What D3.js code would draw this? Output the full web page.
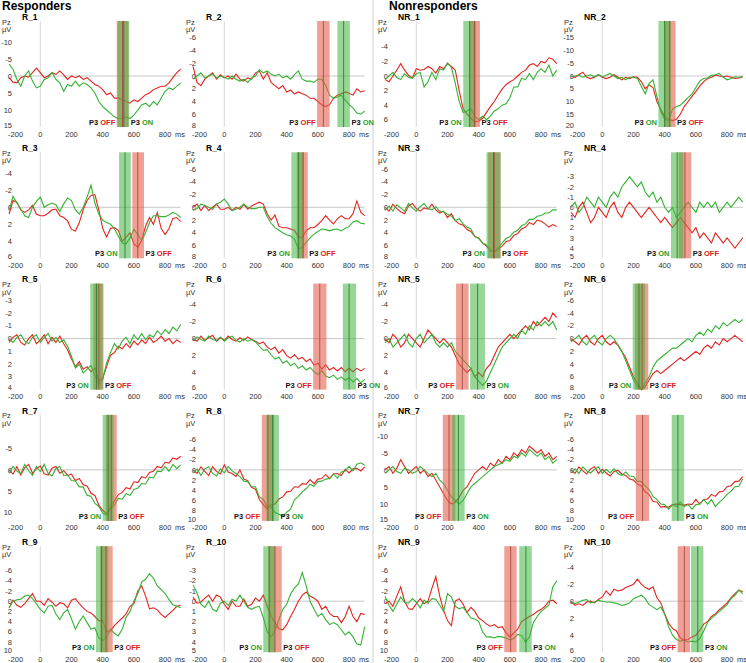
<!DOCTYPE html>
<html>
<head>
<meta charset="utf-8">
<script src="https://cdn.jsdelivr.net/npm/d3@7"></script>
<style>
  body { margin: 0; background: #fff; }
  svg { font-family: "Liberation Sans", Arial, sans-serif; }
</style>
</head>
<body>
<svg id="chart" width="746" height="663"></svg>
<script>
// sample times (ms) shared by every trace
const times = [-200,-175,-150,-125,-100,-75,-50,-25,0,25,50,75,100,125,150,175,200,225,250,275,300,325,350,375,400,425,450,475,500,525,550,575,600,625,650,675,700,725,750,775,800,825,850,875,900];
const xTicks = [-200, 0, 200, 400, 600, 800];

const panelNames = ["R_1","R_2","NR_1","NR_2","R_3","R_4","NR_3","NR_4","R_5","R_6","NR_5","NR_6","R_7","R_8","NR_7","NR_8","R_9","R_10","NR_9","NR_10"];
// value shown at the bottom edge of each panel, and tick spacing (µV)
const yMaxes    = [15, 8, 7, 20, 6, 8, 8, 5, 4, 6, 6, 8, 12, 10, 15, 10, 10, 5, 10, 6];
const tickSteps = [ 5, 2, 2,  5, 2, 2, 2, 1, 1, 2, 2, 2,  5,  2,  5,  2,  2, 1,  2, 2];
// P3 windows: [start, end, peak] in ms
const offBands = [[490,565,527],[595,675,635],[338,408,373],[395,470,432],[590,665,625],[465,535,505],[460,540,500],[490,570,530],[340,405,375],[570,655,612],[255,335,295],[210,295,255],[420,490,455],[240,320,280],[170,250,210],[215,300,258],[383,464,421],[282,368,325],[564,643,605],[483,562,526]];
const onBands  = [[495,570,535],[725,805,765],[301,383,342],[360,440,400],[505,580,543],[430,510,475],[450,540,495],[440,520,480],[320,400,360],[760,845,800],[345,440,393],[195,275,235],[400,470,435],[270,350,310],[230,310,270],[445,525,485],[357,436,393],[250,325,288],[660,740,703],[569,648,612]];

// P3 OFF (red) and P3 ON (green) averages, µV, positive down
const r1Off = [0.5,1.8,2,0.5,0,0.3,-1,-2.3,-1,0.5,0,-1,-0.5,-1.5,-0.3,1,0,0.5,0,1,0.5,1.5,2.5,3,4,5.5,5,6.5,6.5,7,7.5,8,7,7.5,6.5,5.5,5,4,3.5,3,3,2,0.5,-1,-2];
const r1On  = [-3.5,-2,1,3,0,-1.5,1.5,3.5,3,1,0.5,-1,1,2,4.5,2.5,3,1.5,3,2,2.5,3.5,5,7.5,9,10,11,12,12.5,12.5,12,12.5,11.5,10,8.5,8,9,7.5,8.5,6.5,4.5,3.5,4,3,2];
const r2Off = [-1.5,1,1.5,0.5,0,-0.5,0.5,-0.2,0.3,0,0.5,-0.3,0.5,0.8,0.3,0.5,-0.5,-0.8,0.5,-0.5,1,1.5,2,1.5,2.5,2.2,2.8,2.5,2.8,3,3.5,3.5,4,4.5,4.8,4.5,3.5,3,2.8,2.5,2.7,3,2,2.5,2.3];
const r2On  = [0.5,0,-0.5,0.3,0,-0.3,0.3,0,0.2,0.5,0,0.5,0.8,0.5,1,0.3,0,-1,-0.5,-0.8,-0.3,0,-0.3,0.3,0,0.5,-0.2,-0.8,0.5,0.8,0.8,1,0.5,0.5,1.5,3,3.5,3.3,3,3.8,4.5,5,5.8,6,5.5];
const nr1Off = [0.5,0.8,0,-0.8,-1.7,-0.8,-0.1,0.3,-1,-0.8,-0.9,-1.3,-1,-0.4,-1.3,-1,-1.7,-1.3,-0.8,2,4.5,5.2,5.8,6.3,6.2,5.8,5,4.2,3.5,2.6,1.8,1.2,0.8,0.5,0,-0.5,-0.8,-1.5,-1.7,-1.3,-2,-1.8,-2.5,-2.3,-1.7];
const nr1On  = [0.5,0,-0.5,0.2,0.5,-0.3,0.2,0.3,-0.3,-0.5,1.5,0.8,-0.5,0.5,-1,-0.8,-1.8,-1.2,1,3.5,5,4.8,4.5,5.5,6,5.5,6,5.5,4.8,4.5,4,3.8,3,1.5,1.5,0.3,0.5,-0.3,0.5,-0.5,-1,-0.5,-1.5,0,-0.8];
const nr2Off = [0,0.5,-0.5,-1.5,0.5,1,0.5,-0.5,0.5,1,0.5,-0.5,0.5,1.5,0.5,1,0.3,0.5,2.2,5,3.5,4.5,10,13,16,17,17.5,17,15,12,10,8,6,4,2.2,1,0.5,-0.4,0,0.3,0,0.5,1,0.8,0.3];
const nr2On  = [0.3,0,-0.3,0.5,0,-0.5,0.3,-0.5,0.3,-0.3,-1,0,1,0.5,1.5,0.5,0.5,1,4,7,3,1.5,8,14,17,17.5,13,12,11.5,10,8.5,7,4.5,2,1,0.8,-0.3,-0.5,-1,0.5,1.5,1,0.3,0.5,0.3];
const r3Off = [0.8,-0.8,-0.6,0.3,0.6,0.3,-0.2,0.8,1,1,0.7,0.3,0.2,1,1.2,1.6,2.6,2.8,1.8,0.3,-0.8,-1.4,-1.5,0.3,2.5,3.5,2.5,2.4,2.7,4,3.5,3,4.3,4.7,3.9,2.2,1.2,2,0.6,2.5,3.2,2.5,1.3,1.2,1.7];
const r3On  = [0.4,-1.3,-0.5,0.2,1,1.2,0,-0.7,-1.2,0,-0.3,-0.5,-0.3,0.5,-0.4,-1.1,-0.8,0.3,0.8,0,-1.2,-2.6,-0.5,0.8,1.5,1.8,2,2.5,3.4,4.2,4.3,3.6,2.6,3.2,3.9,3,1.8,1,1,1.1,1.1,0.9,0.6,0.8,1.2];
const r4Off = [0,-0.5,0.5,-0.3,0.5,0,-0.5,0.3,0.3,0,0.5,0,0.3,-0.5,0.3,-0.2,-0.5,-0.8,-0.5,1,2,1.2,3,3.2,3.2,3.4,3.6,4.7,4.7,3.7,3.2,3.2,2.7,2.1,1.3,2,2.6,1.8,1.3,1.8,1.8,1,-1,0.8,1.3];
const r4On  = [0.5,0.2,-0.5,-0.3,0,0.3,-0.5,-0.8,-1.3,-0.5,0.5,0.3,0,-0.5,0,0.2,0.2,0,0,1.5,2.5,3.2,3.6,4,4.3,4.5,5,6.5,6.3,5.5,4.8,4.2,3.8,3.4,3.5,3.7,3.5,3.4,3.7,3.3,3,2.3,2.1,2.5,2.6];
const nr3Off = [0,0.6,-0.5,0.2,0.7,1,-0.2,-0.6,0.2,0.6,0.1,0.3,-0.5,0.4,0.9,0.6,1.6,1,2.1,2.6,2.8,3.5,3.8,4.6,4.8,5.6,6.1,6.7,7,6.6,6.1,5.4,5.2,4.4,4.1,3.4,3.1,2.4,2.7,2,2.2,2.6,3.1,2.7,3];
const nr3On  = [0.5,-0.2,0.6,-0.4,0.1,0.6,-0.6,0.1,0.6,-0.1,-0.6,0.2,0.4,-0.1,0.6,0.7,1.1,1.4,2.1,1.8,2.6,3.1,3.4,4.6,4.9,5.6,5.9,6.9,7,6.4,5.6,4.9,4.6,3.9,3.6,2.9,2.6,1.9,1.9,1.4,1.3,0.9,0.9,0.4,0.4];
const nr4Off = [0.5,1,0,-0.5,0.5,1.5,1,0,0.5,1,0,-0.5,0.5,1,0,-0.5,0,0.5,1,0.5,0,0.5,1,1.5,1,1.5,2,1.5,1,1.5,2,2.5,2,3,2.5,3,3.5,2.5,3,3.5,3,3.5,4,3.5,3];
const nr4On  = [0,-0.5,0.5,0,-1,-0.5,0,-1,-0.5,0,-1,-1.5,-1,-2,-2.5,-3,-2.5,-2,-2.5,-1.5,-1,-1.5,-0.5,-1,0,0.5,0,1,0.5,0,-0.5,0,0.5,-0.5,0,-0.5,0,-0.5,0.5,0,-0.5,0,-0.5,-1,-0.5];
const r5Off = [0.3,-0.1,-0.3,0.3,0.5,0,-0.3,0.4,0.1,-0.3,0.4,-0.1,0.3,-0.2,0.4,0.9,1.6,2.2,1.8,2.4,2.2,2.6,2.3,3.3,3.1,2.2,1.3,1.1,0.6,0.8,0.4,0.7,0.2,0.5,0.1,0.4,-0.1,0.3,0.1,-0.2,0.2,0,0.4,0.1,0.3];
const r5On  = [0,0.3,-0.1,-0.3,0.2,0.4,-0.1,-0.3,0.3,-0.1,-0.4,0.2,-0.1,0.3,0.1,0.6,1.4,2.3,2,2.7,2.4,2.1,2.9,3.6,3.2,1.9,1.1,0.4,0.8,0.2,-0.1,0.4,-0.3,0.1,-0.4,0.1,-0.3,-0.1,-0.6,-0.3,-0.7,-0.4,-0.9,-0.6,-1.1];
const r6Off = [0,0.3,-0.3,0.2,-0.1,-0.4,0.3,-0.1,0.2,-0.3,0.1,0.3,-0.1,0.2,-0.2,0.1,0.3,0.6,0.4,1,1.3,1,1.7,1.3,2,2.3,1.9,2.4,2.2,2.7,2.4,3.1,2.9,3.6,3.1,3.7,3.4,3.8,3.4,3.9,3.5,3.9,3.5,3.8,3.5];
const r6On  = [0.2,-0.2,0.1,0.3,-0.3,0.1,0.2,-0.2,0.3,-0.1,-0.3,0.2,0.4,0,0.3,0.1,0.4,0.9,1.4,1.3,1.9,2.4,2.2,2.9,2.6,3.2,2.9,3.5,3.2,3.7,3.4,3.9,4.2,3.8,4.4,4.6,4.3,4.8,4.5,4.9,4.6,5.1,4.7,5.2,4.8];
const nr5Off = [0,0.5,-0.5,0,1,0.5,-0.5,0,0.5,1,0,-1,-0.5,0,0.5,0,0.5,1,2,3,3.5,4,3.5,4.5,4,4.5,3.5,3,2,1,0.5,0,-0.5,0,-0.5,-1,-1.5,-1,-2,-1.5,-2,-2.5,-2,-3,-2.5];
const nr5On  = [0.5,0,1,0.5,0,-0.5,0.5,1,0,-0.5,0.5,0,-0.5,0.5,1,0.5,1,0.5,1.5,2,2.5,3,3.5,4.5,5,5.5,5,4,3,2,1,0.5,0,-0.5,0,-1,-0.5,-1.5,-1,-2,-1.5,-2,-1.5,-2,-1];
const nr6Off = [0,0.5,1,0,-0.5,0.5,1,0,-0.5,0.5,1,0.5,1,2,3,4.5,6,7,8,7.5,6.5,5.5,5,5.5,5,4.5,4,3.5,3,3.5,3,2.5,2,2.5,1.5,1,1.5,0.5,1,0,0.5,0,-0.5,0,0.5];
const nr6On  = [0.5,0,-0.5,0.5,1,0,-0.5,0.5,1,0,-0.5,0,1,2,3.5,5,6.5,7.5,8,7,6,4.5,3.5,3,2.5,2,1.5,1.5,1,0.5,0,0.5,-0.5,-1,-0.5,-1.5,-1,-2,-1.5,-2.5,-2,-2.5,-3,-2.5,-3];
const r7Off = [0,1,-0.8,1.2,-0.5,-1.3,0.8,-0.3,-0.9,0.9,1.2,-0.4,-0.8,0.8,0.2,1.3,1,2.5,2,3.5,3.8,5.5,6,8.3,9.5,10.3,8.8,7.3,5.8,5.3,4.2,4.5,2.8,3,1.6,1.9,0.6,0.3,-0.8,-0.5,-1.8,-1.6,-2.8,-2.5,-3.2];
const r7On  = [0.8,-0.8,0.3,0.9,-1.3,0.2,1.3,-0.8,0.4,-1.3,0.8,1.4,-0.3,-0.8,1.3,1.2,2.5,2.6,4,4,6,6.2,7.9,8.6,10.2,10.6,9.2,8.3,6.7,6.9,5.6,6,4.6,4.3,3.2,3.3,1.7,1.9,0.3,0.4,-0.8,0.3,-1.3,-0.3,-1.2];
const r8Off = [0,0.7,-0.6,0.3,1.1,-0.6,0.3,0.8,-1,0.4,0.7,1.3,0,1.8,2.1,3.4,3.8,5.8,6.8,7.7,6.8,6.7,5.7,5.3,4.3,4.2,3.3,3.4,2.7,2.8,1.9,2.7,1.8,1.7,0.9,1.7,0.8,0.7,1.1,-0.1,0.6,-0.2,-0.3,0.2,-0.6];
const r8On  = [0.6,-0.2,1.1,-0.2,-0.6,0.7,1.2,-0.2,0.6,-0.7,0.2,0.7,1.3,2.2,2.3,3.3,3.3,5.3,5.8,7.3,7.3,8.3,8.7,9.1,8.3,7.7,5.8,5.2,4.3,3.7,2.8,3.2,2.3,2.2,1.8,1.7,0.8,1.6,0.4,0.2,-0.7,0.2,-1.1,-1.4,-0.9];
const nr7Off = [0,-1,1,-0.5,-3,-1,1,0,-1,1,0,2,1,3,5,7,9,10,9.5,8,6,5,3,1,0,-1,0,-2,-1,-3,-2,-4,-3,-5,-4,-6,-5,-7,-6,-5,-6,-4,-5,-3,-4];
const nr7On  = [1,0,-1,0.5,1,-0.5,0,1,0.5,-1,0,1,2,1,3,4,6,8,9,10,9,7,5,4,3,2,1,0,-1,-1.5,-2,-3,-2.5,-4,-3.5,-5,-4,-6,-5,-4,-5,-3,-4,-2,-3];
const nr8Off = [0,0.7,-0.6,0.2,0.8,-0.2,-0.6,0.7,-0.1,0.6,1.2,0.3,0.1,0.8,1.1,1.8,2,2.8,3.1,4.3,4.8,6.2,6.3,7.3,7.2,7.3,6.8,6.7,6.8,6.9,6.7,6.8,5.8,6.7,5.8,5.7,4.8,5.2,4.3,4.2,3.3,3.1,2.3,2.2,1.3];
const nr8On  = [0.6,-0.2,0.7,-0.6,0.2,0.6,-0.1,-0.6,0.7,-0.1,0.6,-0.2,0.7,1.1,0.4,1.2,1.3,2.2,2.3,3.2,3.8,5.2,5.8,6.7,6.8,7.7,6.8,7.2,6.3,7.2,6.8,7.7,6.8,6.7,5.8,6.7,5.8,7.2,6.3,5.7,4.8,4.2,3.3,3.2,1.8];
const r9Off = [1.3,-0.2,0.8,1.2,0.5,-0.5,-1.5,0,0,0.8,-0.5,0.2,1,0.3,0.5,1.3,-0.2,-0.5,0.5,1.3,2,2.3,3,3.8,3.8,6,5.8,4.8,4,3.3,2.5,1,0.5,-2,-3,-1,1.5,1.3,1.7,2.6,3.2,2.5,1.8,1,0.8];
const r9On  = [1.3,0,-0.3,-0.4,-1,-1.2,-0.5,0.5,1.6,2.3,1,0.8,2.5,3.6,2.3,1.6,3.5,5.5,4,2.9,4.2,5.5,5.2,7.2,7.7,7,5.5,6.3,6.8,5.5,3.2,2,0,-1.5,-3.8,-4.3,-5.4,-4.5,-3,-2.3,-1.5,-0.3,0.7,1,1.3];
const r10Off = [-0.4,0.2,0.1,-0.3,-0.6,0,-0.6,-0.4,0.3,0.8,0,0.5,0.5,-0.2,0.5,0.3,-0.3,0,-0.6,0.5,1.5,2.1,2.7,2.8,2.3,1.5,0.8,0,-0.6,-0.9,-0.5,-0.3,0,0.8,0.5,1.2,1.5,1.5,2.1,1.5,0.5,1.5,2,1.2,1.3];
const r10On  = [-1.6,-0.8,0.3,0.6,0,0.8,1,0.2,0,0.4,-0.2,0,-0.6,0,0.6,0.8,0.6,0.5,1.6,3,3.5,2.9,1.8,0.8,0.3,-0.7,-1.3,-1.7,-2.8,-1.5,0,0.8,1.5,1.2,1.8,2.3,2.1,2.3,2.8,3.3,3,3.5,4.2,4.3,2.5];
const nr9Off = [0.5,0,1,-1,-2.8,0,1.5,1.6,0.5,-0.5,0.5,0,-2.5,-4.8,-1,1.8,3.8,4.8,0,-0.5,0.6,2.2,1.2,2,3.3,3.8,4.5,4.9,4.6,5.2,5,6.2,7,6.2,5.5,4,3.5,3,2.6,2,1.6,1,0,-0.2,0.5];
const nr9On  = [-1,0.8,2,0.6,-0.8,0.2,0.4,-0.5,0.2,1.3,-0.2,0.4,-0.5,-0.4,0.8,2,-1.5,-0.8,1,1.5,1.2,2.2,3.3,3.5,4,6,7,7,7.2,6.9,7,7.2,7.6,7.3,6.5,6.7,8,7,4.2,3,2,1.4,0.8,-2.8,-4];
const nr10Off = [0,0.5,0.3,0.5,0.1,0,0.2,-0.2,-0.5,-1.2,-0.7,-1.4,-1.2,-1.3,-1.6,-1.8,-2,-2.6,-2,-1.6,-1.4,-1.7,-0.4,0.2,1.5,2.6,3.2,3.5,4.3,4.6,4.5,4.2,4,3.4,2.7,2.4,1.8,1.5,1,0.6,0.2,-0.4,-0.9,-1.3,-1.1];
const nr10On  = [0.1,0.3,0.1,-0.1,-0.2,0.2,0.1,-0.1,0,0.1,0.1,0.2,0.3,0.5,0.4,0.2,-0.3,-0.5,-0.7,-0.3,0.4,0.7,1,0.7,1.5,3,4,4.5,4.7,4.6,4.8,4.7,4.8,4.4,3.5,2.5,2,1.6,1.2,0.8,0.4,-0.3,-0.7,-1.3,-0.9];

const offSeries = [r1Off,r2Off,nr1Off,nr2Off,r3Off,r4Off,nr3Off,nr4Off,r5Off,r6Off,nr5Off,nr6Off,r7Off,r8Off,nr7Off,nr8Off,r9Off,r10Off,nr9Off,nr10Off];
const onSeries  = [r1On,r2On,nr1On,nr2On,r3On,r4On,nr3On,nr4On,r5On,r6On,nr5On,nr6On,r7On,r8On,nr7On,nr8On,r9On,r10On,nr9On,nr10On];

const RED = "#e3241f", GREEN = "#34b234";
const svg = d3.select("#chart");
const colX = [0, 184, 376, 562];
const rowPitch = 131.3;

svg.append("line")
    .attr("x1", 373).attr("x2", 373).attr("y1", 0).attr("y2", 663)
    .attr("stroke", "#cfcfcf");

svg.append("text").attr("x", 2).attr("y", 10)
    .attr("font-size", 12).attr("font-weight", "bold").text("Responders");
svg.append("text").attr("x", 389).attr("y", 10)
    .attr("font-size", 12).attr("font-weight", "bold").text("Nonresponders");

panelNames.forEach((name, i) => {
  const col = i % 4, row = Math.floor(i / 4);
  const x0 = colX[col];
  const zeroY = 76 + row * rowPitch;
  const top = zeroY - 55, bottom = zeroY + 51;

  const x = d3.scaleLinear().domain([-200, 900]).range([x0 + 9.1, x0 + 180.7]);
  const y = d3.scaleLinear().domain([0, yMaxes[i]]).range([zeroY, bottom]);

  const g = svg.append("g");

  // title, channel, unit
  g.append("text").attr("x", x0 + 22).attr("y", top - 1.2)
      .attr("font-size", 8.5).attr("font-weight", "bold").text(name);
  g.append("text").attr("x", x0 + 2).attr("y", top + 3.5)
      .attr("font-size", 7.5).attr("fill", "#333").text("Pz");
  g.append("text").attr("x", x0 + 2).attr("y", top + 11)
      .attr("font-size", 7.5).attr("fill", "#333").text("µV");

  // y tick labels (only where they clear the unit label)
  const step = tickSteps[i];
  const lo = Math.ceil(y.invert(top) / step) * step;
  const yt = d3.range(lo, yMaxes[i] + 0.001, step).filter(v => y(v) >= top + 16);
  g.selectAll(".yt").data(yt).join("text")
      .attr("x", x0 + 12).attr("y", v => Math.min(y(v), bottom - 2)).attr("dy", "0.35em")
      .attr("text-anchor", "end").attr("font-size", 7.5).attr("fill", "#333")
      .text(v => v);

  // x tick labels
  g.selectAll(".xt").data(xTicks).join("text")
      .attr("x", d => d === -200 ? x(d) - 1 : x(d))
      .attr("y", bottom + 9.5)
      .attr("text-anchor", d => d === -200 ? "start" : "middle")
      .attr("font-size", 7.5).attr("fill", "#333")
      .text(d => d);
  g.append("text").attr("x", x0 + 175).attr("y", bottom + 9.5)
      .attr("font-size", 7.5).attr("fill", "#333").text("ms");

  // reference lines
  g.append("line").attr("x1", x(-200)).attr("x2", x(900))
      .attr("y1", zeroY).attr("y2", zeroY).attr("stroke", "#c8c8c8");
  g.append("line").attr("x1", x(0)).attr("x2", x(0))
      .attr("y1", top).attr("y2", bottom).attr("stroke", "#d9d9d9");

  // traces
  const line = d3.line().x((d, k) => x(times[k])).y(d => y(d));
  g.append("path").datum(offSeries[i]).attr("d", line)
      .attr("fill", "none").attr("stroke", RED).attr("stroke-width", 1.1);
  g.append("path").datum(onSeries[i]).attr("d", line)
      .attr("fill", "none").attr("stroke", GREEN).attr("stroke-width", 1.1);

  // P3 windows, drawn over the traces
  const off = offBands[i], on = onBands[i];
  g.append("rect").attr("x", x(off[0])).attr("y", top)
      .attr("width", x(off[1]) - x(off[0])).attr("height", bottom - top)
      .attr("fill", "#e2614f").attr("fill-opacity", 0.6);
  g.append("rect").attr("x", x(on[0])).attr("y", top)
      .attr("width", x(on[1]) - x(on[0])).attr("height", bottom - top)
      .attr("fill", "#3fb53f").attr("fill-opacity", 0.55);
  g.append("line").attr("x1", x(off[2])).attr("x2", x(off[2]))
      .attr("y1", top).attr("y2", bottom).attr("stroke", "#a84a3f").attr("stroke-width", 0.9);
  g.append("line").attr("x1", x(on[2])).attr("x2", x(on[2]))
      .attr("y1", top).attr("y2", bottom).attr("stroke", "#2f7f2f").attr("stroke-width", 0.9);

  // window labels: left window gets its label on the left, right one on the right
  const offLeft = off[2] <= on[2];
  const leftB = offLeft ? off : on, rightB = offLeft ? on : off;
  const labels = [
    {x: x(leftB[0]) - 1.5, anchor: "end", word: offLeft ? "OFF" : "ON", color: offLeft ? "#d8201c" : "#2aa02a"},
    {x: x(rightB[1]) + 1.5, anchor: "start", word: offLeft ? "ON" : "OFF", color: offLeft ? "#2aa02a" : "#d8201c"}
  ];
  labels.forEach(l => {
    const t = g.append("text").attr("x", l.x).attr("y", bottom - 2)
        .attr("text-anchor", l.anchor).attr("font-size", 7.5).attr("font-weight", "bold");
    t.append("tspan").attr("fill", "#111").text("P3 ");
    t.append("tspan").attr("fill", l.color).text(l.word);
  });
});
</script>
</body>
</html>
